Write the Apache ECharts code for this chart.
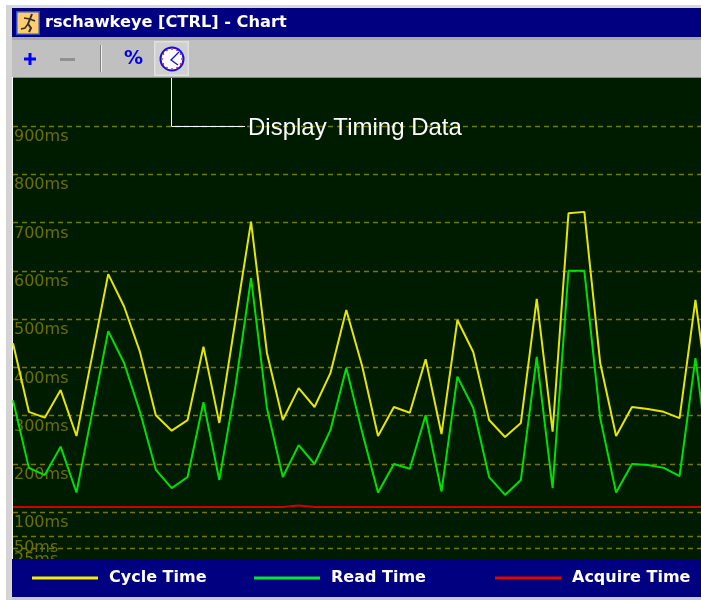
<!DOCTYPE html>
<html><head><meta charset="utf-8">
<style>html,body{margin:0;padding:0;background:#fff}#c{width:701px;height:600px}</style>
<script src="https://cdn.jsdelivr.net/npm/echarts@6/dist/echarts.min.js"></script>
</head><body><div id="c"></div>
<script>
const cycleTime = [450,308,296,353,258,426,593,526,432,301,269,291,443,285,494,702,430,291,357,318,388,519,403,258,318,306,417,262,498,432,291,256,285,542,267,719,722,409,258,318,314,308,295,540,291];
const readTime = [332,192,177,236,141,308,475,409,308,188,150,173,328,167,357,585,316,173,239,200,270,399,266,141,200,190,301,143,381,316,173,136,167,422,150,600,600,295,141,200,198,192,175,419,167];
const acquireTime = [111,111,111,111,111,111,111,111,111,111,111,111,111,111,111,111,111,111,114,111,111,111,111,111,111,111,111,111,111,111,111,111,111,111,111,111,111,111,111,111,111,111,111,111,111];
const yTicks = [0,25,50,100,200,300,400,500,600,700,800,900];
const seriesNames = ['Cycle Time','Read Time','Acquire Time'];
const seriesColors = ['#e6e600','#00e000','#d00000'];
const legendColors = ['#f0f000','#00e830','#e60000'];
const chart = echarts.init(document.getElementById('c'));
const pairs = a => a.map((v,i)=>[i,v]);
const Z = 10;
const rect = (x,y,w,h,fill,z)=>({type:'rect',silent:true,z:z||Z,shape:{x,y,width:w,height:h},style:{fill}});
const txt = (x,y,text,font,fill,z)=>({type:'text',silent:true,z:z||Z,x,y,style:{text,font,fill,textVerticalAlign:'middle'}});
const clockDots = [];
for(let k=0;k<12;k++){const a=k*Math.PI/6;clockDots.push({type:'circle',silent:true,z:12,shape:{cx:172+10*Math.cos(a),cy:59+10*Math.sin(a),r:0.9},style:{fill:'#f02020'}});}
const option = {
  animation:false,
  backgroundColor:'#ffffff',
  grid:{left:13,right:0,top:77.6,height:483,backgroundColor:'#001c00',show:true,borderWidth:0},
  xAxis:{type:'value',min:0,max:43.35,show:false},
  yAxis:{type:'value',min:0,max:1000,interval:100,
    axisLine:{show:false},axisTick:{show:false,customValues:yTicks},
    axisLabel:{inside:true,customValues:yTicks,formatter:v=>v===0?'':v+'ms',color:'#6e6e00',
      fontFamily:'DejaVu Sans',fontSize:16,verticalAlign:'top',margin:1,padding:[3,0,0,0],showMinLabel:true,showMaxLabel:true},
    splitLine:{show:true,lineStyle:{color:'#767600',type:[5,4],width:1.4}}},
  legend:seriesNames.map((n,i)=>({data:[{name:n,icon:'rect'}],left:[32,254,495][i],top:570,z:20,padding:0,itemWidth:66,itemHeight:3,
    textStyle:{color:'#fff',fontFamily:'DejaVu Sans',fontWeight:'bold',fontSize:16,padding:[2,0,0,6]},selectedMode:false})),
  series:seriesNames.map((n,i)=>({name:n,type:'line',data:pairs([cycleTime,readTime,acquireTime][i]),
    showSymbol:false,symbol:'none',lineStyle:{color:seriesColors[i],width:2},itemStyle:{color:legendColors[i]},z:5-i})),
  graphic:[
    rect(6,5,695,4,'#d8d8d8'),
    rect(6,5,6,595,'#d4d4d4'),
    rect(12,8,689,29,'#000080'),
    rect(12,37,689,3,'#a8a8a8'),
    rect(12,40,689,37,'#c0c0c0'),
    rect(12,559,689,38,'#000080'),
    rect(12,597,689,3,'#c8c8d8'),
    rect(16,11,24,24,'#3050c0'),rect(17.5,12.5,21,21,'#ffcc70'),
    {type:'polyline',silent:true,z:12,shape:{points:[[32,14],[30,19],[28,24],[31,28],[29,32]]},style:{stroke:'#303030',lineWidth:2,fill:null}},
    {type:'polyline',silent:true,z:12,shape:{points:[[24,18],[30,19],[35,21]]},style:{stroke:'#303030',lineWidth:1.5,fill:null}},
    {type:'polyline',silent:true,z:12,shape:{points:[[28,24],[25,28],[21,29]]},style:{stroke:'#303030',lineWidth:1.5,fill:null}},
    txt(45,23,'rschawkeye [CTRL] - Chart','bold 16.2px "DejaVu Sans"','#ffffff'),
    rect(24,57.5,12,3,'#0000ff'),rect(28.5,53,3,12,'#0000ff'),
    rect(60,58,15,3,'#909090'),
    rect(100,45,1,27,'#808080'),rect(101,45,1,27,'#f0f0f0'),
    txt(124,59,'%','bold 19px "DejaVu Sans"','#0000e0'),
    rect(154,41,35,35,'#e0e0e0'),rect(155.5,42.5,32,32,'#d0d0d0'),
    {type:'circle',silent:true,z:11,shape:{cx:172,cy:59,r:11.5},style:{fill:'#ffffff',stroke:'#1010e0',lineWidth:2}},
    {type:'polyline',silent:true,z:12,shape:{points:[[179,52],[171,60],[178,65]]},style:{stroke:'#1010e0',lineWidth:1.3,fill:null}},
    ...clockDots,
    {type:'polyline',silent:true,z:12,shape:{points:[[171.5,78],[171.5,126.5],[245,126.5]]},style:{stroke:'#ffffff',lineWidth:1,fill:null}},
    txt(248,128,'Display Timing Data','24px "Liberation Sans"','#ffffff',12)
  ]
};
chart.setOption(option);
</script></body></html>
